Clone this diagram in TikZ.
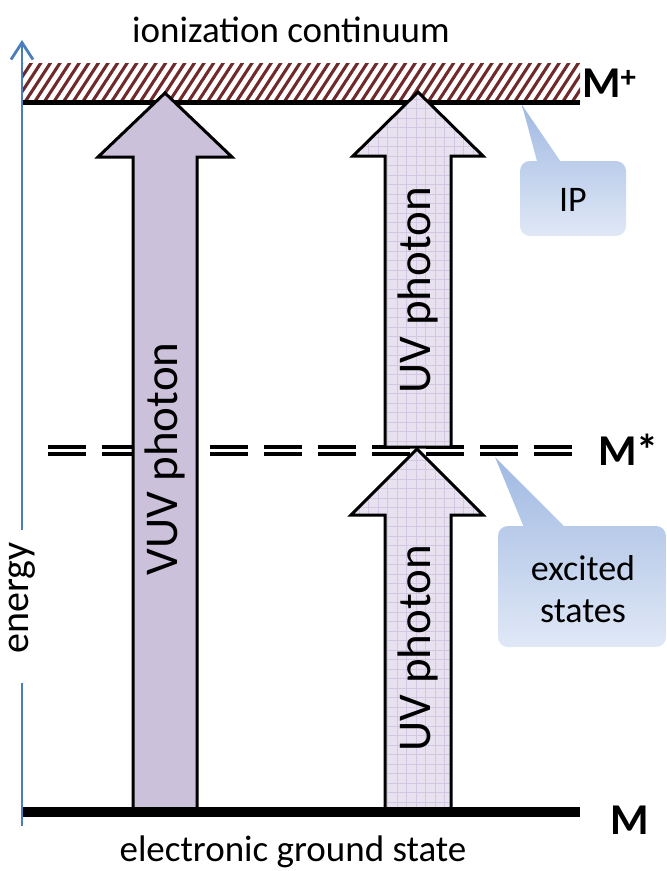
\documentclass[tikz,border=0pt]{standalone}
\usepackage{fontspec}
\setmainfont{Carlito}
\usetikzlibrary{arrows.meta}
\definecolor{hatchc}{RGB}{112,42,42}
\definecolor{axisblue}{RGB}{74,126,187}
\definecolor{vuvfill}{RGB}{204,193,218}
\definecolor{uvfill}{RGB}{232,226,240}
\definecolor{uvgrid}{RGB}{210,200,226}
\definecolor{calltop}{RGB}{160,185,226}
\definecolor{callbot}{RGB}{224,232,246}
\begin{document}
\begin{tikzpicture}[x=1pt,y=-1pt,
  lbl/.style={font=\fontsize{37}{42}\selectfont, inner sep=0pt},
  photonlbl/.style={font=\fontsize{47}{52}\selectfont, inner sep=0pt, rotate=90},
  statelbl/.style={font=\fontsize{44}{48}\selectfont\bfseries, inner sep=0pt, anchor=base west},
  photon/.style={draw=black, line width=3pt, line join=miter, miter limit=10},
  uvpattern/.style={photon, fill=uvfill, path picture={
      \foreach \gx in {340,349.5,...,500} \draw[uvgrid, line width=0.6pt] (\gx,60) -- (\gx,830);
      \foreach \gy in {80,89.5,...,830} \draw[uvgrid, line width=0.6pt] (340,\gy) -- (500,\gy);}},
  levelline/.style={line width=5pt},
  dashlvl/.style={line width=3.6pt, dash pattern=on 38pt off 16pt},
  axisline/.style={axisblue, line width=2.8pt},
  callshade/.style={top color=calltop, bottom color=callbot}
]
\useasboundingbox (0,0) rectangle (667,871);

% ionization continuum hatch
\begin{scope}
  \clip (23,63) rectangle (580,101);
  \foreach \i in {-5,...,60}
    \draw[hatchc, line width=3.1pt] ({23+\i*9.6},105) -- ({53+\i*9.6},59);
\end{scope}
\coordinate (ipL) at (22,102.5);
\coordinate (ipR) at (580,102.5);
\draw[levelline] (ipL) -- (ipR);

% excited state dashed double line
\coordinate (d1L) at (48,447.2);
\coordinate (d1R) at (572,447.2);
\coordinate (d2L) at (48,453.8);
\coordinate (d2R) at (572,453.8);
\draw[dashlvl] (d1L) -- (d1R);
\draw[dashlvl] (d2L) -- (d2R);

% VUV photon arrow
\draw[photon, fill=vuvfill] (133,812) -- (133,157) -- (98,157) -- (165,93) -- (232,157) -- (197,157) -- (197,812) -- cycle;
\node[photonlbl] (vuv) at (165,459) {VUV photon};

% upper UV photon arrow
\draw[uvpattern] (385,447) -- (385,156) -- (353,156) -- (418,92) -- (483,156) -- (451,156) -- (451,447) -- cycle;
\node[photonlbl] (uv1) at (418,290) {UV photon};

% lower UV photon arrow
\draw[uvpattern] (385,812) -- (385,515) -- (351,515) -- (417,449) -- (483,515) -- (451,515) -- (451,812) -- cycle;
\node[photonlbl] (uv2) at (418,648) {UV photon};

% ground state line
\coordinate (gL) at (22,812);
\coordinate (gR) at (580,812);
\draw[line width=10pt] (gL) -- (gR);

% energy axis
\node[lbl, font=\fontsize{40}{44}\selectfont, rotate=90] (energy) at (22,598) {energy};
\coordinate (axbot) at (22,826);
\coordinate (axtop) at (22,40);
\coordinate (eb) at (22,683);
\coordinate (et) at (22,530);
\draw[axisline] (axbot) -- (eb);
\draw[axisline, -{Straight Barb[length=17pt,width=22pt]}] (et) -- (axtop);

% labels
\node[lbl, anchor=base] (ion) at (291,42) {ionization continuum};
\node[lbl, anchor=base] (ground) at (293,861) {electronic ground state};
\node[statelbl] (mplus) at (582,97) {M\textsuperscript{+}};
\node[statelbl] (mstar) at (598,465) {M*};
\node[statelbl] (mzero) at (610,834) {M};

% IP callout
\begin{scope}
  \clip (538,165) -- (522,105) -- (563,165) -- cycle;
  \shade[callshade] (515,105) rectangle (630,236);
\end{scope}
\begin{scope}
  \clip[rounded corners=10pt] (520,161) rectangle (626,236);
  \shade[callshade] (515,105) rectangle (630,236);
\end{scope}
\node[lbl, font=\fontsize{36}{40}\selectfont] (ip) at (573,200) {IP};

% excited states callout
\begin{scope}
  \clip (525,530) -- (495,457) -- (568,530) -- cycle;
  \shade[callshade] (490,457) rectangle (670,647);
\end{scope}
\begin{scope}
  \clip[rounded corners=10pt] (498,526) rectangle (666,647);
  \shade[callshade] (490,457) rectangle (670,647);
\end{scope}
\node[lbl, font=\fontsize{36}{40}\selectfont, align=center] (exc) at (583,589) {excited\\[2pt]states};
\end{tikzpicture}
\end{document}
